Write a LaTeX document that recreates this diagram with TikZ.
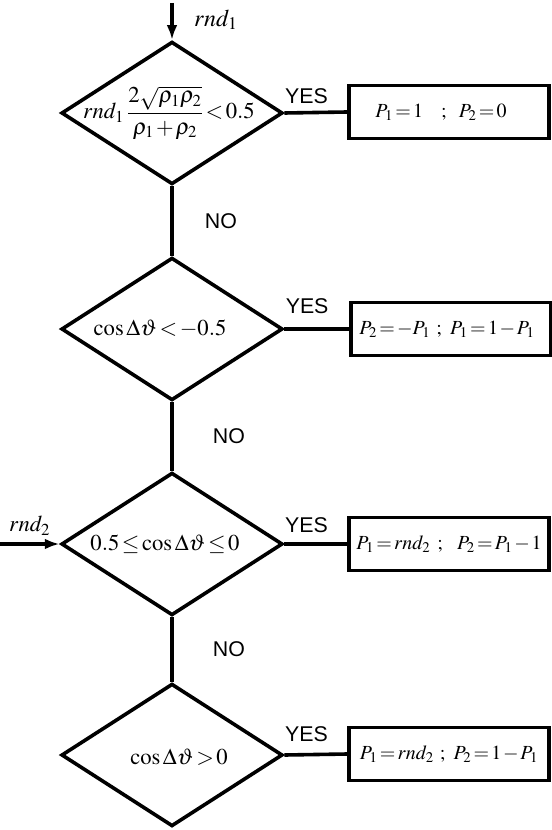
\documentclass[tikz,border=0pt]{standalone}
\usepackage{mathptmx}
\usepackage[no-math]{fontspec}
\newfontfamily\answerfont{Liberation Sans}
\usetikzlibrary{arrows.meta}
\usetikzlibrary{shapes.geometric}
\thickmuskip=2mu plus 1mu
\medmuskip=1.5mu plus 1mu
\newcommand{\gap}[1]{\hspace{#1em}}

\begin{document}
\begin{tikzpicture}[x=0.75pt, y=-0.75pt, line width=2.7pt,
  decision/.style={draw, diamond, inner sep=0pt, minimum width=166pt, minimum height=107pt},
  result/.style={draw, rectangle, inner sep=0pt, minimum width=150pt, minimum height=40pt, font=\fontsize{15}{18}\selectfont},
  formula/.style={font=\fontsize{17}{20}\selectfont},
  answer/.style={font=\answerfont\fontsize{16}{19}\selectfont},
  flow/.style={-{Latex[length=11pt,width=8pt]}}]
\useasboundingbox (0,0) rectangle (552,830);

% decisions
\node[decision] (c1) at (172,113) {};
\node[decision] (c2) at (172,329) {};
\node[decision] (c3) at (172,544) {};
\node[decision] (c4) at (172,755) {};

\node[formula] (f1) at (169,113) {$\displaystyle rnd_1\,\frac{2\sqrt{\rho_1\rho_2}}{\rho_1+\rho_2}<0.5$};
\node[formula] (f2) at (160,329) {$\cos\Delta\vartheta<-0.5$};
\node[formula] (f3) at (165,544) {$0.5\le\cos\Delta\vartheta\le 0$};
\node[formula] (f4) at (179,757) {$\cos\Delta\vartheta>0$};

% results
\node[result] (r1) at (449,112) {$P_1=1\gap{0.9};\gap{0.5}P_2=0$\hspace*{12pt}};
\node[result] (r2) at (451,329) {$P_2=-P_1\gap{0.3};\gap{0.3}P_1=1-P_1$\hspace*{6pt}};
\node[result] (r3) at (449,544) {$P_1=rnd_2\gap{0.35};\gap{0.6}P_2=P_1-1$};
\node[result] (r4) at (449,754) {$P_1=rnd_2\gap{0.3};\gap{0.3}P_2=1-P_1$};

% inputs
\coordinate (in1) at (172,3);
\coordinate (in2) at (0,544);
\draw[flow] (in1) -- (c1.north) node[formula, font=\fontsize{18}{21}\selectfont, pos=0.45, right=12pt] {$rnd_1$};
\draw[flow] (in2) -- (c3.west) node[formula, midway, above=2pt] {$rnd_2$};

% YES branches
\draw (c1.east) -- (r1.west) node[answer, pos=0.35, above=2pt] {YES};
\draw (c2.east) -- (r2.west) node[answer, pos=0.35, above=7pt] {YES};
\draw (c3.east) -- (r3.west) node[answer, pos=0.35, above=4pt] {YES};
\draw (c4.east) -- (r4.west) node[answer, pos=0.35, above=5pt] {YES};

% NO branches
\draw (c1.south) -- (c2.north) node[answer, midway, right=20pt] {NO};
\draw (c2.south) -- (c3.north) node[answer, midway, right=26pt] {NO};
\draw (c3.south) -- (c4.north) node[answer, midway, right=26pt] {NO};

\end{tikzpicture}
\end{document}
